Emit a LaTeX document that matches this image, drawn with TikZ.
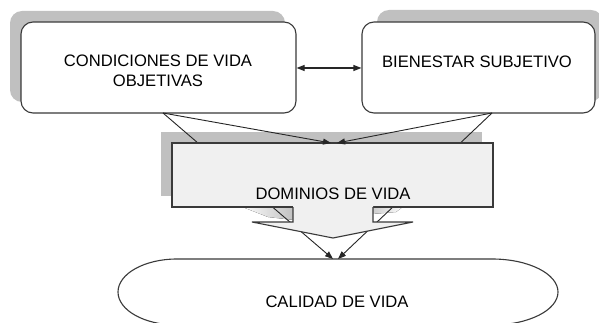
\documentclass[tikz,border=0pt]{standalone}
\usepackage{fontspec}
\setmainfont{Liberation Sans}
\usetikzlibrary{arrows.meta}
\definecolor{shgray}{HTML}{C0C0C0}
\definecolor{boxline}{HTML}{3A3A3A}
\definecolor{domfill}{HTML}{F0F0F0}
\begin{document}
\begin{tikzpicture}[x=1pt,y=-1pt,
  shadowbox/.style={fill=shgray, draw=none, rounded corners=12pt},
  topbox/.style={draw=boxline, line width=1.1pt, fill=white, rounded corners=12pt, inner sep=0pt},
  lbl/.style={font=\fontsize{16.6}{20}\selectfont, inner sep=0pt, text=black},
  conn/.style={draw=black!85, line width=0.9pt, -{Triangle[length=8pt,width=6pt]}},
  dconn/.style={draw=black!85, line width=1.1pt, {Triangle[length=8pt,width=6pt]}-{Triangle[length=8pt,width=6pt]}},
]
\clip (0,0) rectangle (599,323);
\fill[white] (0,0) rectangle (599,323);

% shadows
\fill[shadowbox] (10,11) rectangle (285,102);
\fill[shadowbox] (377,10) rectangle (603,101);
\fill[shgray] (161,132) rectangle (482,196);
\fill[left color=white, right color=shgray] (240,206) -- (294,206) -- (294,220) -- (268,217) -- cycle;
\fill[left color=shgray!80, right color=white] (372,206) -- (404,206) -- (396,212) -- (372,214) -- cycle;

% calidad de vida
\draw[boxline, line width=1.1pt, fill=white] (177,259) -- (492,259)
  .. controls (528.5,259) and (558,273.8) .. (558,292)
  .. controls (558,310.2) and (528.5,325) .. (492,325)
  -- (177,325)
  .. controls (144.4,325) and (118,310.2) .. (118,292)
  .. controls (118,273.8) and (144.4,259) .. (177,259) -- cycle;
\coordinate (caltop) at (335,259);

% top boxes
\node[topbox, minimum width=275pt, minimum height=91pt] (lbox) at (158.5,67.5) {};
\node[topbox, minimum width=233pt, minimum height=91pt] (rbox) at (478.5,67.5) {};
\coordinate (lfoot) at (163,113);
\coordinate (rfoot) at (492,113);

% long connectors behind the domain box
\draw[conn] (lfoot) -- ([xshift=-2pt]caltop);
\draw[conn] (rfoot) -- ([xshift=3pt]caltop);

% dominios de vida
\node[draw=boxline, line width=1.1pt, fill=domfill, minimum width=321pt, minimum height=64pt, inner sep=0pt] (dbox) at (332.5,175) {};
\coordinate (dtop) at (334,143);
\fill[domfill] (293,205) -- (293,222) -- (252,222) -- (333,238) -- (413,222) -- (373,222) -- (373,205) -- cycle;
\draw[boxline, line width=1.1pt, line join=miter] (293,207) -- (293,222) -- (252,222) -- (333,238) -- (413,222) -- (373,222) -- (373,207);

% short connectors
\draw[conn] (lfoot) -- ([xshift=-3pt]dtop);
\draw[conn] (rfoot) -- ([xshift=3pt]dtop);

% double arrow
\draw[dconn] (lbox.east |- 0,68) -- (rbox.west |- 0,68);

% labels
\node[lbl, anchor=base] (tl1) at (158,67) {CONDICIONES DE VIDA};
\node[lbl, anchor=base] (tl2) at (158,87) {OBJETIVAS};
\node[lbl, anchor=base] (tr) at (477,68) {BIENESTAR SUBJETIVO};
\node[lbl, anchor=base] (td) at (333,199) {DOMINIOS DE VIDA};
\node[lbl, anchor=base] (tc) at (337,307) {CALIDAD DE VIDA};
\end{tikzpicture}
\end{document}
